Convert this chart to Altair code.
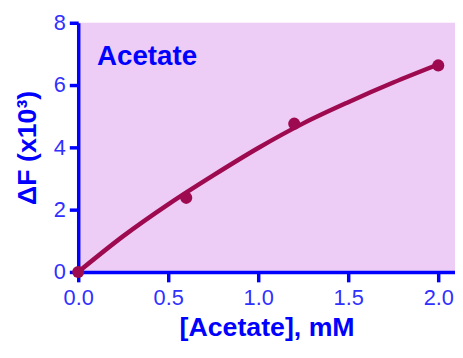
import altair as alt
import pandas as pd

# measured data points
pt_x = [0.0, 0.6, 1.2, 2.0]
pt_y = [0.0, 2.38, 4.76, 6.63]

# fitted curve
curve_x = [0.0, 0.25, 0.5, 0.75, 1.0, 1.25, 1.5, 1.75, 2.0]
curve_y = [0.0, 1.15, 2.17, 3.1, 3.98, 4.77, 5.45, 6.08, 6.66]

x_ticks = [0.0, 0.5, 1.0, 1.5, 2.0]
y_ticks = [0, 2, 4, 6, 8]

pts = pd.DataFrame({"x": pt_x, "y": pt_y})
curve = pd.DataFrame({"x": curve_x, "y": curve_y})

BLUE = "#0000FF"
LBL = "#3030ff"
WINE = "#9E0A4F"
FONT = "Liberation Sans"

xs = alt.Scale(domain=[0, 2.093], nice=False, zero=False)
ys = alt.Scale(domain=[0, 8], nice=False)

xax = alt.Axis(values=x_ticks, format=".1f", title="[Acetate], mM",
               domainColor=BLUE, domainWidth=3.5, tickColor=BLUE, tickWidth=3.5,
               tickSize=10, labelColor=LBL, labelFontSize=22, labelFont=FONT,
               labelPadding=6, titleColor=BLUE, titleFontSize=27, titleFont=FONT,
               titleFontWeight="bold", titlePadding=6, grid=False,
               labelFlush=False)
yax = alt.Axis(values=y_ticks, format="d", title="ΔF (x10³)",
               domainColor=BLUE, domainWidth=3.5, tickColor=BLUE, tickWidth=3.5,
               tickSize=9, labelColor=LBL, labelFontSize=22, labelFont=FONT,
               labelPadding=4, titleColor=BLUE, titleFontSize=27, titleFont=FONT,
               titleFontWeight="bold", titlePadding=12, grid=False,
               labelFlush=False)

line = alt.Chart(curve).mark_line(color=WINE, strokeWidth=4.5, interpolate="monotone", clip=False).encode(
    x=alt.X("x:Q", scale=xs, axis=xax),
    y=alt.Y("y:Q", scale=ys, axis=yax),
)
dots = alt.Chart(pts).mark_circle(color=WINE, opacity=1, size=150, clip=False).encode(
    x=alt.X("x:Q", scale=xs),
    y=alt.Y("y:Q", scale=ys),
)
label = alt.Chart(pd.DataFrame({"t": ["Acetate"]})).mark_text(
    text="Acetate", align="left", baseline="alphabetic", font=FONT,
    fontSize=28, fontWeight="bold", color=BLUE
).encode(x=alt.value(19), y=alt.value(43))

chart = alt.layer(line, dots, label).properties(
    width=381, height=252,
    autosize=alt.AutoSizeParams(type="none"),
    padding={"left": 71, "top": 13, "right": 0, "bottom": 77},
    view=alt.ViewBackground(fill="#EDCCF5", strokeWidth=0),
).configure(background="white")

chart.save("out.html", embed_options={"renderer": "svg", "actions": False})
